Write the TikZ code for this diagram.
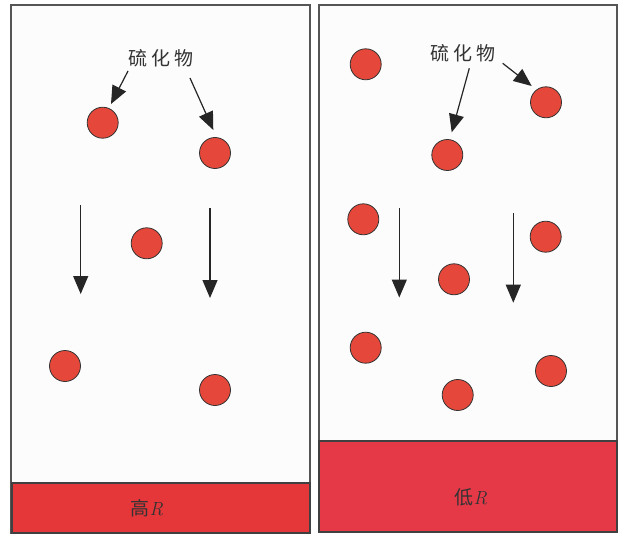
\documentclass[tikz,border=0pt]{standalone}
\usepackage{fontspec}
\newfontfamily\cjk{Noto Sans CJK SC}
\usetikzlibrary{arrows.meta}
\definecolor{ballred}{HTML}{E5483A}
\definecolor{barleft}{HTML}{E5363A}
\definecolor{barright}{HTML}{E63948}
\definecolor{panelbg}{HTML}{FCFCFC}
\definecolor{edge}{HTML}{555555}
\tikzset{
  ball/.style={circle, draw=black!80, line width=0.8pt, fill=ballred, minimum size=31pt, inner sep=0pt},
  panel/.style={draw=edge, line width=1.1pt, fill=panelbg},
  bar/.style={draw=black!75, line width=1.1pt},
  tag/.style={font=\cjk\fontsize{19}{19}\selectfont, text=black!80, inner sep=1pt},
  barlabel/.style={font=\fontsize{19}{19}\selectfont, text=black!80, inner sep=1pt},
  pointer/.style={line width=1.2pt, draw=black!85, -{Triangle[length=18pt,width=15pt]}}
}
\begin{document}
\begin{tikzpicture}[x=1pt,y=-1pt]
\useasboundingbox (0,0) rectangle (622,535);
\fill[white] (0,0) rectangle (622,535);
% panels
\draw[panel] (11,5) rectangle (310,533);
\draw[panel] (319,5) rectangle (617,532);
% bars
\draw[bar, fill=barleft] (12,483) rectangle (310,533);
\draw[bar, fill=barright] (319,441) rectangle (617,532);
\node[barlabel] (hiR) at (147,508) {{\cjk 高}\textit{R}};
\node[barlabel] (loR) at (471,497) {{\cjk 低}\textit{R}};
% left balls
\node[ball] (l1) at (102.7,122.7) {};
\node[ball] (l2) at (215,153) {};
\node[ball] (l3) at (146.7,243.3) {};
\node[ball] (l4) at (65,366) {};
\node[ball] (l5) at (215,390) {};
% right balls
\node[ball] (r1) at (365.7,64.3) {};
\node[ball] (r2) at (546,102.3) {};
\node[ball] (r3) at (447.3,155) {};
\node[ball] (r4) at (363.3,219.3) {};
\node[ball] (r5) at (545.7,236.7) {};
\node[ball] (r6) at (454,279.3) {};
\node[ball] (r7) at (365.7,347.7) {};
\node[ball] (r8) at (551,371) {};
\node[ball] (r9) at (457.7,395) {};
% labels
\node[tag] (tagL) at (161,58) {硫\hspace{4pt}化\hspace{4pt}物};
\node[tag] (tagR) at (463,53) {硫\hspace{4pt}化\hspace{4pt}物};
% pointer coordinates
\coordinate (pL1s) at (128,71);  \coordinate (pL1e) at (111,104);
\coordinate (pL2s) at (190,78);  \coordinate (pL2e) at (213.3,130);
\coordinate (pR1s) at (469.3,68.3); \coordinate (pR1e) at (451.7,132.3);
\coordinate (pR2s) at (502.7,63.3); \coordinate (pR2e) at (531.7,86);
\draw[pointer] (pL1s) -- (pL1e);
\draw[pointer] (pL2s) -- (pL2e);
\draw[pointer] (pR1s) -- (pR1e);
\draw[pointer] (pR2s) -- (pR2e);
% falling arrows
\coordinate (fL1s) at (80.7,205); \coordinate (fL1e) at (80.7,294);
\coordinate (fL2s) at (210,208); \coordinate (fL2e) at (210,298);
\coordinate (fR1s) at (399.3,208); \coordinate (fR1e) at (399.3,297.5);
\coordinate (fR2s) at (513.3,213); \coordinate (fR2e) at (513.3,302.7);
\draw[pointer] (fL1s) -- (fL1e);
\draw[pointer] (fL2s) -- (fL2e);
\draw[pointer] (fR1s) -- (fR1e);
\draw[pointer] (fR2s) -- (fR2e);
\end{tikzpicture}
\end{document}
